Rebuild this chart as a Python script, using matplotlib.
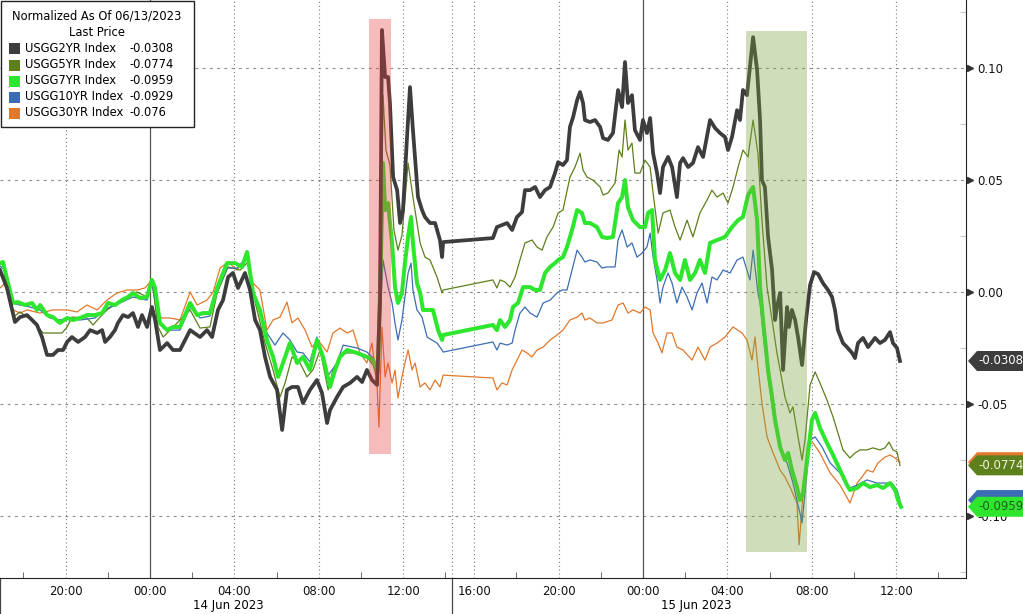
import matplotlib
matplotlib.use("Agg")
import matplotlib.pyplot as plt
from matplotlib.patches import Rectangle, Polygon
from matplotlib.ticker import FixedLocator
import numpy as np

plt.rcParams['font.family'] = ['DejaVu Sans']
plt.rcParams['axes.unicode_minus'] = False

# time in hours since 14 Jun 2023 00:00, values = normalized yield change
t_2y = [-7.11, -6.78, -6.40, -6.16, -5.83, -5.59, -5.36, -5.12, -4.88, -4.60, -4.36, -4.12, -3.93, -3.70,
        -3.41, -3.08, -2.84, -2.51, -2.27, -2.13, -1.90, -1.66, -1.52, -1.28, -1.04, -0.81, -0.57, -0.38,
        -0.14, 0.09, 0.24, 0.47, 0.81, 1.09, 1.42, 1.90, 2.37, 2.70, 2.94, 3.22, 3.46, 3.70, 3.93, 4.17,
        4.50, 4.74, 4.98, 5.21, 5.45, 5.69, 6.02, 6.26, 6.49, 6.73, 7.01, 7.25, 7.58, 7.91, 8.15, 8.39,
        8.53, 8.86, 9.15, 9.48, 9.81, 10.05, 10.28, 10.52, 10.76, 10.90, 10.99, 11.14, 11.28, 11.37,
        11.52, 11.71, 11.85, 11.99, 12.18, 12.32, 12.46, 12.70, 12.89, 13.03, 13.27, 13.51, 13.74, 13.84,
        13.89,
        16.89, 17.08, 17.32, 17.56, 17.80, 18.03, 18.27, 18.41, 18.65, 18.89, 19.12, 19.36, 19.60, 19.83,
        19.98, 20.21, 20.40, 20.54, 20.69, 20.88, 21.02, 21.16, 21.25, 21.49, 21.73, 21.97, 22.11, 22.34,
        22.58, 22.82, 23.01, 23.15, 23.29, 23.48, 23.62, 23.86, 24.00, 24.19, 24.34, 24.48, 24.67, 24.81,
        24.95, 25.19, 25.38, 25.61, 25.76, 25.90, 26.14, 26.37, 26.61, 26.85, 27.18, 27.42, 27.65, 27.89,
        28.03, 28.22, 28.46, 28.60, 28.74, 28.93, 29.07, 29.22, 29.41, 29.55, 29.64, 29.78, 29.93, 30.12,
        30.26, 30.35, 30.50, 30.64, 30.83, 30.92, 31.06, 31.21, 31.35, 31.54, 31.73, 31.92, 32.11, 32.30,
        32.53, 32.77, 32.96, 33.10, 33.24, 33.48, 33.67, 33.91, 34.05, 34.19, 34.43, 34.67, 35.00, 35.23,
        35.47, 35.71, 35.85, 36.04, 36.18]
v_2y = [0.0098, 0.0018, -0.0134, -0.0112, -0.0103, -0.0125, -0.0147, -0.0201, -0.0281, -0.0281, -0.0259,
        -0.0259, -0.0223, -0.0201, -0.0223, -0.0201, -0.0170, -0.0183, -0.0170, -0.0223, -0.0201, -0.0170,
        -0.0138, -0.0103, -0.0112, -0.0094, -0.0156, -0.0103, -0.0156, -0.0067, -0.0125, -0.0259, -0.0228,
        -0.0259, -0.0259, -0.0170, -0.0201, -0.0170, -0.0201, -0.0080, -0.0036, 0.0067, 0.0085, 0.0018,
        0.0085, 0.0009, -0.0125, -0.0170, -0.0290, -0.0379, -0.0437, -0.0616, -0.0437, -0.0424, -0.0424,
        -0.0496, -0.0437, -0.0393, -0.0451, -0.0585, -0.0527, -0.0469, -0.0424, -0.0406, -0.0379, -0.0402,
        -0.0348, -0.0393, -0.0415, -0.0036, 0.1170, 0.0960, 0.0960, 0.0844, 0.0513, 0.0455, 0.0308, 0.0366,
        0.0692, 0.0915, 0.0723, 0.0424, 0.0366, 0.0335, 0.0308, 0.0308, 0.0232, 0.0156, 0.0223,
        0.0241, 0.0290, 0.0299, 0.0308, 0.0277, 0.0335, 0.0357, 0.0455, 0.0455, 0.0469, 0.0424, 0.0455,
        0.0469, 0.0531, 0.0580, 0.0567, 0.0589, 0.0737, 0.0781, 0.0857, 0.0893, 0.0844, 0.0768, 0.0759,
        0.0768, 0.0737, 0.0687, 0.0679, 0.0710, 0.0902, 0.0826, 0.1027, 0.0844, 0.0879, 0.0723, 0.0679,
        0.0768, 0.0710, 0.0777, 0.0620, 0.0531, 0.0442, 0.0558, 0.0603, 0.0558, 0.0424, 0.0576, 0.0598,
        0.0558, 0.0576, 0.0647, 0.0603, 0.0768, 0.0732, 0.0710, 0.0692, 0.0634, 0.0692, 0.0812, 0.0768,
        0.0902, 0.0879, 0.1004, 0.1138, 0.0991, 0.0768, 0.0500, 0.0469, 0.0246, 0.0098, -0.0125, -0.0067,
        -0.0004, -0.0348, -0.0067, -0.0156, -0.0080, -0.0125, -0.0201, -0.0326, -0.0125, 0.0031, 0.0089,
        0.0080, 0.0040, 0.0009, -0.0022, -0.0080, -0.0170, -0.0228, -0.0246, -0.0272, -0.0295, -0.0228,
        -0.0205, -0.0246, -0.0205, -0.0228, -0.0214, -0.0179, -0.0228, -0.0250, -0.0308]

t_5y = [-7.11, -6.87, -6.49, -6.16, -5.83, -5.54, -5.31, -5.07, -4.60, -4.17, -3.93, -3.70, -2.99, -2.70,
        -2.37, -2.04, -1.56, -1.09, -0.62, -0.14, 0.09, 0.38, 0.62, 0.95, 1.90, 2.37, 2.84, 3.18, 3.70,
        4.27, 4.64, 4.98, 5.45, 5.83, 6.16, 6.40, 6.73, 7.11, 7.44, 7.72, 8.06, 8.44, 8.67, 9.15, 9.81,
        10.28, 10.57, 10.80, 10.95, 11.04, 11.18, 11.37, 11.56, 11.75, 11.94, 12.23, 12.46, 12.80, 13.03,
        13.27, 13.60, 13.84, 13.89,
        16.89, 17.08, 17.23, 17.46, 17.70, 17.94, 18.17, 18.41, 18.74, 18.98, 19.22, 19.45, 19.74, 19.98,
        20.21, 20.54, 20.78, 21.02, 21.16, 21.35, 21.63, 21.97, 22.11, 22.34, 22.68, 22.87, 23.01, 23.15,
        23.29, 23.48, 23.62, 23.86, 24.10, 24.34, 24.48, 24.72, 24.95, 25.28, 25.52, 25.76, 26.09, 26.37,
        26.70, 27.04, 27.27, 27.51, 27.80, 28.03, 28.27, 28.51, 28.74, 28.98, 29.22, 29.45, 29.64, 29.88,
        30.12, 30.35, 30.50, 30.73, 30.97, 31.11, 31.35, 31.54, 31.68, 31.92, 32.16, 32.39, 32.72, 33.01,
        33.24, 33.48, 33.81, 34.05, 34.29, 34.62, 34.90, 35.23, 35.47, 35.66, 35.85, 36.04, 36.18]
v_5y = [0.0085, 0.0067, -0.0112, -0.0089, -0.0112, -0.0125, -0.0156, -0.0183, -0.0183, -0.0183, -0.0156,
        -0.0112, -0.0116, -0.0147, -0.0112, -0.0080, -0.0049, -0.0022, 0.0000, -0.0022, 0.0054, -0.0156,
        -0.0201, -0.0170, -0.0080, -0.0161, -0.0156, -0.0004, 0.0112, 0.0098, 0.0134, -0.0045, -0.0228,
        -0.0348, -0.0469, -0.0406, -0.0290, -0.0317, -0.0379, -0.0348, -0.0259, -0.0437, -0.0348, -0.0272,
        -0.0272, -0.0290, -0.0326, -0.0393, 0.0187, 0.0879, 0.0634, 0.0567, 0.0277, 0.0187, 0.0254, 0.0576,
        0.0424, 0.0219, 0.0156, 0.0143, 0.0067, -0.0004, 0.0009,
        0.0054, 0.0018, 0.0054, 0.0045, 0.0022, 0.0067, 0.0143, 0.0219, 0.0232, 0.0201, 0.0187, 0.0246,
        0.0290, 0.0353, 0.0366, 0.0513, 0.0558, 0.0620, 0.0545, 0.0513, 0.0500, 0.0469, 0.0433, 0.0442,
        0.0487, 0.0634, 0.0603, 0.0768, 0.0634, 0.0665, 0.0531, 0.0531, 0.0589, 0.0558, 0.0442, 0.0263,
        0.0353, 0.0366, 0.0290, 0.0232, 0.0321, 0.0246, 0.0353, 0.0411, 0.0455, 0.0424, 0.0442, 0.0397,
        0.0469, 0.0558, 0.0634, 0.0603, 0.0768, 0.0620, 0.0321, 0.0022, -0.0125, -0.0272, -0.0348, -0.0469,
        -0.0540, -0.0513, -0.0647, -0.0750, -0.0661, -0.0415, -0.0357, -0.0406, -0.0482, -0.0558, -0.0629,
        -0.0705, -0.0741, -0.0719, -0.0705, -0.0705, -0.0696, -0.0705, -0.0696, -0.0670, -0.0705, -0.0714,
        -0.0774]

t_7y = [-7.11, -6.97, -6.73, -6.49, -6.26, -5.92, -5.59, -5.36, -5.21, -4.88, -4.60, -4.27, -3.93, -3.65,
        -3.32, -2.99, -2.61, -2.27, -1.99, -1.66, -1.33, -1.04, -0.81, -0.47, -0.14, 0.09, 0.24, 0.47, 0.81,
        1.09, 1.42, 1.90, 2.23, 2.51, 2.84, 3.18, 3.65, 4.03, 4.36, 4.60, 4.88, 5.21, 5.54, 5.83, 6.07,
        6.30, 6.63, 6.97, 7.25, 7.58, 7.91, 8.20, 8.53, 8.77, 9.00, 9.34, 9.81, 10.28, 10.57, 10.80, 10.95,
        11.04, 11.14, 11.28, 11.47, 11.61, 11.75, 11.94, 12.08, 12.23, 12.37, 12.46, 12.65, 12.80, 12.94,
        13.17, 13.41, 13.65, 13.84, 13.89,
        16.89, 17.08, 17.23, 17.46, 17.70, 17.84, 18.08, 18.32, 18.65, 18.89, 19.12, 19.36, 19.60, 19.83,
        19.98, 20.21, 20.40, 20.64, 20.88, 21.11, 21.25, 21.49, 21.82, 22.06, 22.30, 22.58, 22.82, 23.01,
        23.15, 23.29, 23.53, 23.86, 24.10, 24.24, 24.43, 24.57, 24.81, 25.05, 25.28, 25.52, 25.76, 25.99,
        26.23, 26.47, 26.70, 26.94, 27.18, 27.51, 27.89, 28.22, 28.51, 28.74, 28.98, 29.22, 29.41, 29.55,
        29.69, 29.93, 30.12, 30.26, 30.50, 30.73, 30.88, 31.06, 31.30, 31.44, 31.59, 31.78, 32.01, 32.16,
        32.39, 32.72, 33.01, 33.34, 33.67, 33.81, 34.15, 34.43, 34.76, 35.09, 35.38, 35.71, 35.95, 36.09,
        36.23]
v_7y = [0.0129, 0.0134, 0.0040, -0.0049, -0.0045, -0.0058, -0.0049, -0.0080, -0.0058, -0.0103, -0.0112,
        -0.0138, -0.0116, -0.0125, -0.0116, -0.0103, -0.0103, -0.0094, -0.0049, -0.0058, -0.0036, -0.0022,
        -0.0004, -0.0027, -0.0022, 0.0054, 0.0018, -0.0138, -0.0170, -0.0156, -0.0156, -0.0049, -0.0103,
        -0.0094, -0.0094, 0.0018, 0.0129, 0.0129, 0.0112, 0.0179, -0.0004, -0.0080, -0.0214, -0.0290,
        -0.0379, -0.0317, -0.0228, -0.0317, -0.0290, -0.0348, -0.0214, -0.0290, -0.0424, -0.0348, -0.0290,
        -0.0259, -0.0272, -0.0290, -0.0304, -0.0357, 0.0187, 0.0576, 0.0366, 0.0397, 0.0219, 0.0022,
        -0.0049, -0.0004, 0.0129, 0.0246, 0.0335, 0.0219, 0.0040, -0.0004, -0.0080, -0.0080, -0.0080,
        -0.0170, -0.0214, -0.0192,
        -0.0147, -0.0170, -0.0125, -0.0156, -0.0125, -0.0067, -0.0049, 0.0022, 0.0022, 0.0009, 0.0009,
        0.0085, 0.0112, 0.0129, 0.0143, 0.0156, 0.0201, 0.0277, 0.0366, 0.0353, 0.0308, 0.0308, 0.0290,
        0.0246, 0.0241, 0.0246, 0.0397, 0.0424, 0.0500, 0.0379, 0.0321, 0.0290, 0.0290, 0.0353, 0.0366,
        0.0143, 0.0054, 0.0098, 0.0174, 0.0085, 0.0054, 0.0143, 0.0054, 0.0085, 0.0143, 0.0085, 0.0219,
        0.0232, 0.0246, 0.0290, 0.0321, 0.0335, 0.0433, 0.0469, 0.0321, 0.0022, -0.0125, -0.0348, -0.0469,
        -0.0571, -0.0692, -0.0750, -0.0719, -0.0795, -0.0871, -0.0929, -0.0897, -0.0750, -0.0571, -0.0540,
        -0.0607, -0.0674, -0.0728, -0.0795, -0.0862, -0.0884, -0.0875, -0.0853, -0.0871, -0.0862, -0.0875,
        -0.0853, -0.0884, -0.0929, -0.0959]

t_10y = [-7.11, -6.87, -6.49, -6.16, -5.69, -5.21, -4.74, -4.27, -3.79, -3.32, -2.61, -1.99, -1.42, -0.81,
         -0.14, 0.09, 0.47, 0.95, 1.42, 1.90, 2.37, 2.84, 3.18, 3.65, 4.12, 4.60, 4.88, 5.21, 5.54, 5.92,
         6.30, 6.63, 6.97, 7.25, 7.58, 7.91, 8.39, 8.86, 9.15, 9.81, 10.28, 10.57, 10.80, 10.95, 11.04,
         11.28, 11.47, 11.61, 11.75, 11.94, 12.08, 12.23, 12.37, 12.46, 12.65, 12.89, 13.13, 13.36, 13.60,
         13.84, 13.89,
         16.89, 17.08, 17.23, 17.56, 17.80, 17.94, 18.17, 18.41, 18.65, 18.98, 19.27, 19.60, 19.93, 20.17,
         20.40, 20.64, 20.88, 21.11, 21.25, 21.49, 21.82, 22.06, 22.30, 22.68, 22.82, 23.01, 23.25, 23.48,
         23.72, 23.96, 24.19, 24.34, 24.48, 24.67, 24.81, 24.95, 25.19, 25.38, 25.61, 25.85, 26.09, 26.33,
         26.56, 26.80, 27.04, 27.27, 27.51, 27.80, 28.13, 28.46, 28.74, 29.07, 29.22, 29.45, 29.55, 29.88,
         30.17, 30.50, 30.83, 31.11, 31.44, 31.54, 31.68, 31.92, 32.16, 32.49, 32.87, 33.34, 33.81, 34.15,
         34.62, 35.09, 35.57, 35.80, 36.04, 36.18]
v_10y = [0.0116, 0.0098, -0.0049, -0.0058, -0.0067, -0.0080, -0.0116, -0.0125, -0.0116, -0.0125, -0.0116,
         -0.0071, -0.0049, -0.0022, -0.0036, 0.0040, -0.0147, -0.0170, -0.0170, -0.0067, -0.0116, -0.0107,
         0.0000, 0.0107, 0.0107, 0.0156, -0.0013, -0.0089, -0.0183, -0.0237, -0.0183, -0.0214, -0.0268,
         -0.0272, -0.0312, -0.0201, -0.0379, -0.0317, -0.0237, -0.0250, -0.0268, -0.0295, -0.0348, -0.0036,
         0.0143, 0.0022, -0.0049, -0.0138, -0.0214, -0.0125, -0.0022, 0.0085, 0.0129, 0.0009, -0.0080,
         -0.0112, -0.0201, -0.0214, -0.0228, -0.0259, -0.0268,
         -0.0223, -0.0259, -0.0228, -0.0237, -0.0228, -0.0170, -0.0094, -0.0067, -0.0094, -0.0112, -0.0049,
         -0.0036, -0.0004, 0.0009, 0.0009, 0.0098, 0.0187, 0.0156, 0.0134, 0.0143, 0.0134, 0.0107, 0.0112,
         0.0112, 0.0232, 0.0277, 0.0201, 0.0219, 0.0156, 0.0174, 0.0201, 0.0263, 0.0156, 0.0054, -0.0049,
         0.0022, 0.0085, 0.0040, -0.0049, 0.0022, -0.0022, -0.0080, -0.0004, 0.0040, -0.0049, 0.0067,
         0.0054, 0.0098, 0.0085, 0.0143, 0.0156, 0.0054, 0.0187, -0.0004, -0.0049, -0.0348, -0.0540,
         -0.0705, -0.0763, -0.0853, -0.0987, -0.1031, -0.0897, -0.0661, -0.0647, -0.0692, -0.0763, -0.0808,
         -0.0875, -0.0862, -0.0839, -0.0853, -0.0853, -0.0853, -0.0884, -0.0929]

t_30y = [-7.11, -6.87, -6.49, -6.16, -5.83, -5.21, -4.60, -3.93, -3.46, -2.99, -2.51, -2.04, -1.56, -1.09,
         -0.62, -0.24, 0.09, 0.33, 0.62, 0.95, 1.42, 1.90, 2.23, 2.70, 2.99, 3.32, 3.70, 4.12, 4.60, 4.88,
         5.21, 5.54, 5.83, 6.16, 6.49, 6.73, 7.01, 7.35, 7.68, 7.96, 8.39, 8.67, 9.00, 9.34, 9.62, 9.95,
         10.28, 10.52, 10.76, 10.85, 10.99, 11.14, 11.28, 11.47, 11.61, 11.75, 11.94, 12.08, 12.23, 12.42,
         12.56, 12.80, 13.03, 13.27, 13.51, 13.74, 13.89,
         16.89, 17.08, 17.32, 17.56, 17.80, 18.03, 18.27, 18.51, 18.74, 18.98, 19.27, 19.60, 19.93, 20.21,
         20.54, 20.88, 21.11, 21.25, 21.49, 21.82, 22.11, 22.53, 22.82, 23.06, 23.29, 23.53, 23.86, 24.10,
         24.34, 24.48, 24.72, 24.90, 25.14, 25.38, 25.61, 25.90, 26.33, 26.61, 26.94, 27.18, 27.51, 27.89,
         28.27, 28.70, 28.93, 29.17, 29.31, 29.45, 29.64, 29.88, 30.17, 30.50, 30.73, 30.97, 31.30, 31.40,
         31.59, 31.82, 32.06, 32.39, 32.87, 33.34, 33.81, 34.15, 34.38, 34.62, 34.90, 35.14, 35.47, 35.71,
         35.95, 36.18]
v_30y = [0.0018, 0.0040, -0.0080, -0.0094, -0.0080, -0.0094, -0.0080, -0.0080, -0.0089, -0.0058, -0.0080,
         -0.0036, -0.0004, 0.0009, 0.0009, 0.0018, 0.0054, -0.0112, -0.0116, -0.0116, -0.0125, 0.0000,
         -0.0058, -0.0036, 0.0000, 0.0107, 0.0134, 0.0098, 0.0156, 0.0040, 0.0009, -0.0170, -0.0125,
         -0.0112, -0.0045, -0.0138, -0.0116, -0.0170, -0.0246, -0.0214, -0.0268, -0.0183, -0.0161, -0.0183,
         -0.0170, -0.0272, -0.0317, -0.0228, -0.0424, -0.0603, -0.0156, -0.0379, -0.0317, -0.0406, -0.0348,
         -0.0473, -0.0379, -0.0317, -0.0259, -0.0348, -0.0317, -0.0424, -0.0406, -0.0437, -0.0393, -0.0424,
         -0.0371,
         -0.0384, -0.0437, -0.0406, -0.0415, -0.0348, -0.0304, -0.0259, -0.0272, -0.0290, -0.0259, -0.0246,
         -0.0214, -0.0192, -0.0170, -0.0125, -0.0112, -0.0094, -0.0125, -0.0116, -0.0138, -0.0138, -0.0125,
         -0.0058, -0.0049, -0.0094, -0.0080, -0.0094, -0.0067, -0.0080, -0.0183, -0.0228, -0.0272, -0.0183,
         -0.0183, -0.0246, -0.0259, -0.0304, -0.0246, -0.0304, -0.0246, -0.0228, -0.0201, -0.0156, -0.0183,
         -0.0214, -0.0304, -0.0201, -0.0335, -0.0496, -0.0647, -0.0719, -0.0795, -0.0826, -0.0871, -0.0942,
         -0.1129, -0.0897, -0.0674, -0.0674, -0.0719, -0.0808, -0.0862, -0.0942, -0.0853, -0.0826, -0.0795,
         -0.0804, -0.0763, -0.0737, -0.0728, -0.0741, -0.0760]

names = ["USGG2YR Index", "USGG5YR Index", "USGG7YR Index", "USGG10YR Index", "USGG30YR Index"]
last_price = ["-0.0308", "-0.0774", "-0.0959", "-0.0929", "-0.076"]
last_value = [-0.0308, -0.0774, -0.0959, -0.0929, -0.0760]
colors = ["#3d3d3d", "#5d7f1c", "#2fe62f", "#3a6db3", "#e2782a"]

# real hours for tick labels
tick_hours = [-4, 0, 4, 8, 12, 16, 20, 24, 28, 32, 36]
tick_labels = ["20:00", "00:00", "04:00", "08:00", "12:00", "16:00", "20:00", "00:00", "04:00", "08:00", "12:00"]
minor_hours = [-6, -2, 2, 6, 10, 14, 18, 22, 26, 30, 34, 38]
day_hours = [0, 24]

# highlighted windows (hours, value range)
red_box = (10.38, 11.42, -0.0723, 0.1219)
green_box = (28.88, 31.78, -0.1161, 0.1165)

BREAK = 14.31   # axis break where the quiet hours are cut out
CUT = 0.64


def to_axis(t):
    t = np.asarray(t, dtype=float)
    return np.where(t <= BREAK, t, np.maximum(BREAK, t - CUT))


W, H = 1023, 614
fig = plt.figure(figsize=(W / 100, H / 100), dpi=100)
ax = fig.add_axes([0, 36 / H, 966 / W, 578 / H])
ax.set_xlim(-7.11, 38.67)
ax.set_ylim(-0.1277, 0.1304)

# grid
yticks = [0.10, 0.05, 0.0, -0.05, -0.10]
for y in yticks:
    ax.axhline(y, color="#8a8a8a", lw=0.8, ls=(0, (2.5, 4)), zorder=0.5)
for h in tick_hours:
    if h in day_hours:
        ax.axvline(float(to_axis(h)), color="#555555", lw=0.9, zorder=0.5)
    else:
        ax.axvline(float(to_axis(h)), color="#7a7a7a", lw=0.8, ls=(0, (1, 2.5)), zorder=0.5)
ax.axvline(BREAK, color="#7a7a7a", lw=0.8, ls=(0, (1, 2.5)), zorder=0.5)

# series
series = [(t_30y, v_30y, 4, 0.9, 2), (t_5y, v_5y, 1, 0.9, 3), (t_10y, v_10y, 3, 0.9, 3.2),
          (t_7y, v_7y, 2, 2.9, 3.5), (t_2y, v_2y, 0, 2.7, 4)]
for t, v, i, lw, z in series:
    ax.plot(to_axis(t), v, color=colors[i], lw=lw, zorder=z, solid_joinstyle="round")

# shaded windows drawn on top
for (t0, t1, y0, y1), c in [(red_box, "#e83c3c"), (green_box, "#78a03c")]:
    x0, x1 = float(to_axis(t0)), float(to_axis(t1))
    ax.add_patch(Rectangle((x0, y0), x1 - x0, y1 - y0, facecolor=c, alpha=0.35, lw=0, zorder=5))

# axes styling
for s in ["top", "left"]:
    ax.spines[s].set_visible(False)
ax.spines["bottom"].set_color("#222222")
ax.spines["right"].set_color("#222222")

ax.yaxis.tick_right()
ax.set_yticks(yticks)
ax.set_yticklabels(["%.2f" % y for y in yticks])
ax.yaxis.set_minor_locator(FixedLocator([0.125, 0.075, 0.025, -0.025, -0.075, -0.125]))
ax.tick_params(axis="y", which="major", length=0, pad=8, labelsize=8.5, colors="#111111")
ax.tick_params(axis="y", which="minor", direction="in", length=4, color="#bbbbbb")
ax.plot([1.004] * len(yticks), yticks, ls="", marker=">", ms=4.5, color="#333333",
        transform=ax.get_yaxis_transform(), clip_on=False, zorder=6)

ax.set_xticks(to_axis(tick_hours))
ax.set_xticklabels(tick_labels)
ax.xaxis.set_minor_locator(FixedLocator(to_axis(minor_hours)))
ax.tick_params(axis="x", which="major", length=0, pad=5, labelsize=8.5, colors="#111111")
ax.tick_params(axis="x", which="minor", direction="in", length=4, color="#555555")

# date row under the time labels
xt = ax.get_xaxis_transform()
for xv in [-7.11, BREAK]:
    ax.plot([xv, xv], [0, -36 / 578], color="#444444", lw=0.9, transform=xt, clip_on=False)
ax.text(3.7, -28 / 578, "14 Jun 2023", transform=xt, ha="center", va="center", fontsize=8.5)
ax.text(25.9, -28 / 578, "15 Jun 2023", transform=xt, ha="center", va="center", fontsize=8.5)

# last value tags on the right (pentagon pointing at the axis)
yt = ax.get_yaxis_transform()
px_x = 1 / 966          # one pixel in axes fraction
px_y = 0.2581 / 578     # one pixel in data units
half = 10 * px_y
tip = 1 + 2 * px_x
tags = [(4, None), (1, "#eef4e0"), (3, None), (2, "#1f5f1f"), (0, "#ffffff")]
for z, (i, tc) in enumerate(tags):
    val = last_value[i]
    shape = [(tip, val), (tip + 9 * px_x, val + half), (1.07, val + half),
             (1.07, val - half), (tip + 9 * px_x, val - half)]
    ax.add_patch(Polygon(shape, closed=True, transform=yt, facecolor=colors[i], edgecolor="none",
                         clip_on=False, zorder=7 + z * 0.1))
    if tc is not None:
        ax.text(1 + 12 * px_x, val, last_price[i], transform=yt, ha="left", va="center",
                fontsize=8.5, color=tc, clip_on=False, zorder=7.05 + z * 0.1)

# legend box
def fx(x):
    return x / W


def fy(y):
    return 1 - y / H


fig.add_artist(Rectangle((fx(1), fy(127)), fx(193), 126 / H, transform=fig.transFigure,
                         facecolor="white", edgecolor="#222222", lw=1, zorder=10))
fig.text(fx(97), fy(16), "Normalized As Of 06/13/2023", ha="center", va="center", fontsize=8.3, zorder=11)
fig.text(fx(97), fy(32), "Last Price", ha="center", va="center", fontsize=8.3, zorder=11)
rows = [48, 65, 81, 97, 113]
for i, yy in enumerate(rows):
    fig.add_artist(Rectangle((fx(9), fy(yy + 6)), fx(11), 11 / H, transform=fig.transFigure,
                             facecolor=colors[i], edgecolor="none", zorder=11))
    fig.text(fx(25), fy(yy), names[i], ha="left", va="center", fontsize=8.3, zorder=11)
    fig.text(fx(129), fy(yy), last_price[i], ha="left", va="center", fontsize=8.3, zorder=11)

fig.savefig("out.png", dpi=100)
